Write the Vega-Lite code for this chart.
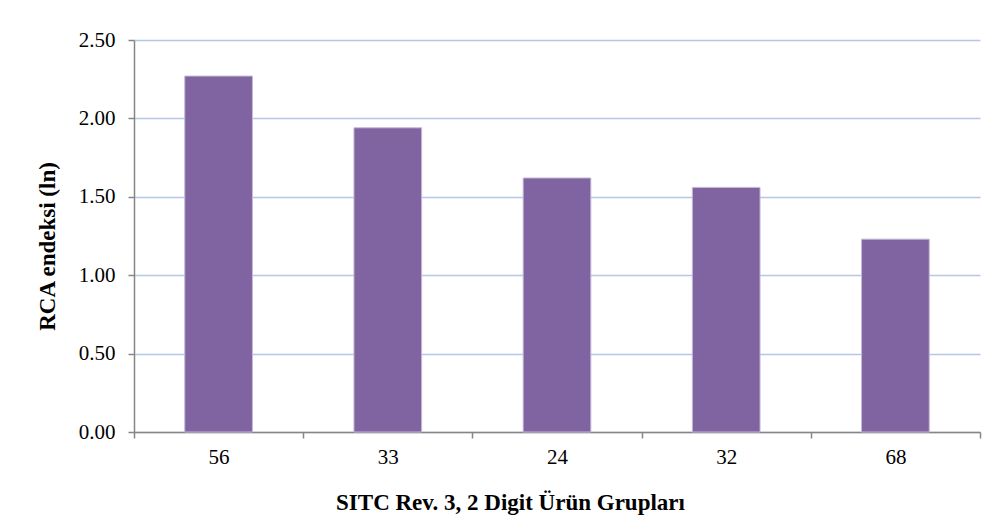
{
  "$schema": "https://vega.github.io/schema/vega-lite/v6.json",
  "autosize": {"type": "none"},
  "padding": {"left": 134, "top": 40, "right": 16, "bottom": 100},
  "width": 846,
  "height": 392,
  "background": "white",
  "config": {
    "view": {"stroke": null},
    "font": "Liberation Serif",
    "axis": {
      "labelFont": "Liberation Serif",
      "labelFontSize": 21,
      "labelColor": "black",
      "titleFont": "Liberation Serif",
      "titleFontSize": 23,
      "titleFontWeight": "bold",
      "titleColor": "black",
      "tickColor": "#868686",
      "tickWidth": 1.5,
      "tickSize": 6,
      "domainColor": "#868686",
      "domainWidth": 1.5
    }
  },
  "data": {
    "values": [
      {"group": "56", "rca": 2.27},
      {"group": "33", "rca": 1.94},
      {"group": "24", "rca": 1.62},
      {"group": "32", "rca": 1.56},
      {"group": "68", "rca": 1.23}
    ]
  },
  "mark": {"type": "bar", "color": "#8064A2", "stroke": "#C4B8D6", "strokeWidth": 1, "width": {"band": 0.4}},
  "encoding": {
    "x": {
      "field": "group",
      "type": "nominal",
      "sort": null,
      "scale": {"paddingInner": 0, "paddingOuter": 0},
      "axis": {
        "title": "SITC Rev. 3, 2 Digit Ürün Grupları",
        "titleX": 376,
        "titleY": 70,
        "titleBaseline": "middle",
        "labelAngle": 0,
        "labelPadding": 8,
        "tickBand": "extent",
        "grid": false
      }
    },
    "y": {
      "field": "rca",
      "type": "quantitative",
      "scale": {"domain": [0, 2.5], "nice": false},
      "axis": {
        "title": "RCA endeksi (ln)",
        "titleX": -87,
        "titleY": 206,
        "titleBaseline": "middle",
        "values": [0, 0.5, 1, 1.5, 2, 2.5],
        "format": ".2f",
        "labelPadding": 13,
        "grid": true,
        "gridColor": "#B4C7E7",
        "gridWidth": 1.5
      }
    }
  }
}
